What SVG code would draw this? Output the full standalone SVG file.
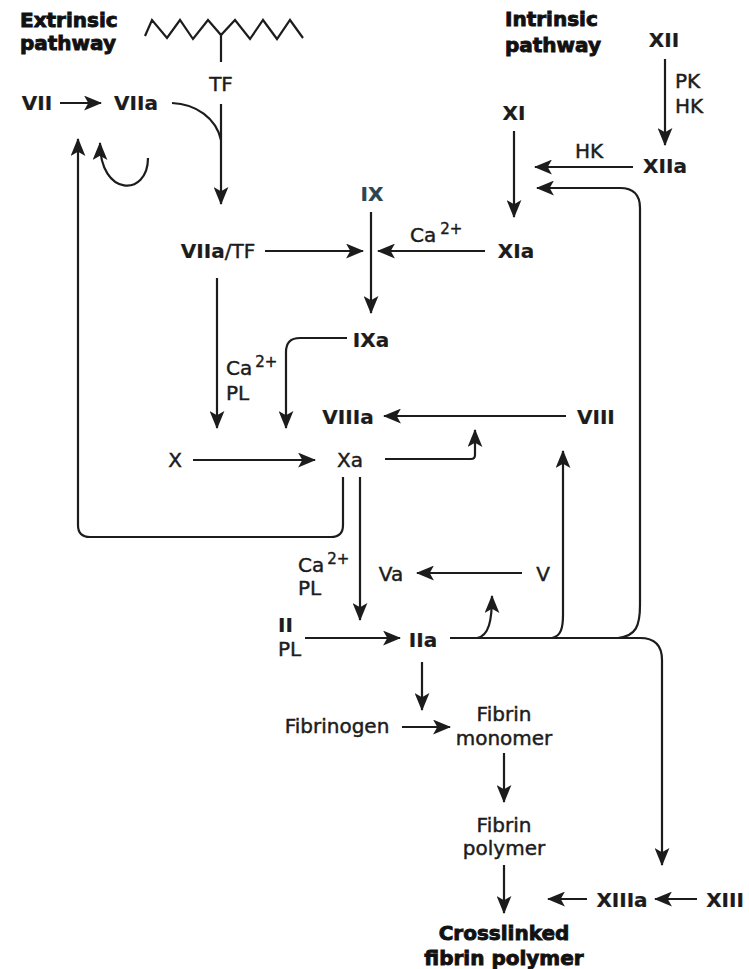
<svg xmlns="http://www.w3.org/2000/svg" width="749" height="969" viewBox="0 0 749 969">
  <defs>
    <marker id="ah" markerUnits="userSpaceOnUse" markerWidth="18" markerHeight="15" refX="16" refY="7" orient="auto" viewBox="0 0 17 14">
      <path d="M0,0 L17,7 L0,14 L4,7 z" fill="#1c1c1c"/>
    </marker>
    <style>
      text { font-family: "DejaVu Sans", Verdana, sans-serif; font-size: 20px; fill: #1c1c1c; stroke: #1c1c1c; stroke-width: 0.45px; }
      .b { font-weight: bold; stroke-width: 0.2px; }
      .t { font-weight: bold; font-size: 20px; fill: #111; stroke: #111; stroke-width: 0.9px; }
      .m { text-anchor: middle; }
      .sup { font-size: 15px; }
      .c { fill: none; stroke: #1c1c1c; stroke-width: 2.2; }
      .a { marker-end: url(#ah); }
      .ix { fill: #2a4652; stroke: #2a4652; }
    </style>
  </defs>
  <rect width="749" height="969" fill="#ffffff"/>

  <g id="titles">
    <text class="t" x="20" y="27">Extrinsic</text>
    <text class="t" x="20" y="50">pathway</text>
    <text class="t" x="505" y="26">Intrinsic</text>
    <text class="t" x="505" y="52">pathway</text>
  </g>

  <g id="membrane">
    <polyline class="c" stroke-width="3.4" stroke-linejoin="miter" points="145,36 152,20 167,38 180,20 193,39 208,20 221,35 235,20 250,39 263,20 277,39 290,20 303,38"/>
    <line class="c" stroke-width="3" x1="221" y1="35" x2="221" y2="62"/>
  </g>

  <g id="connectors">
    <path class="c a" d="M60,103 H101"/>
    <path class="c a" d="M221,104 V204"/>
    <path class="c" d="M172,103 C196,104 216,118 221,140"/>
    <path class="c a" d="M148,158 C148,197 100,197 100,143"/>
    <path class="c a" d="M343,477 V525 Q343,537 331,537 H90 Q78,537 78,525 V139"/>
    <path class="c a" d="M265,251 H363"/>
    <path class="c a" d="M371,212 V313"/>
    <path class="c a" d="M485,251 H378"/>
    <path class="c a" d="M514,131 V217"/>
    <path class="c a" d="M665,59 V145"/>
    <path class="c a" d="M633,167 H535"/>
    <path class="c a" d="M618,638 C636,636 640,626 640,605 V208 Q640,188 620,188 H537"/>
    <path class="c a" d="M450,638 H640 Q662,638 662,660 V865"/>
    <path class="c a" d="M552,638 C561,636 563,628 563,615 V451"/>
    <path class="c a" d="M477,638 C489,636 492,620 492,596"/>
    <path class="c a" d="M385,459 H471 Q475,459 475,455 V430"/>
    <path class="c a" d="M566,416 H384"/>
    <path class="c a" d="M217,278 V428"/>
    <path class="c a" d="M347,338 H300 Q286,338 286,352 V428"/>
    <path class="c a" d="M193,460 H315"/>
    <path class="c a" d="M360,477 V620"/>
    <path class="c a" d="M522,573 H417"/>
    <path class="c a" d="M305,638 H400"/>
    <path class="c a" d="M422,662 V710"/>
    <path class="c a" d="M402,727 H450"/>
    <path class="c a" d="M504,753 V802"/>
    <path class="c a" d="M504,865 V913"/>
    <path class="c a" d="M587,899 H548"/>
    <path class="c a" d="M697,899 H655"/>
  </g>

  <g id="VII"><text class="b m" x="37" y="110">VII</text></g>
  <g id="VIIa"><text class="b m" x="136" y="110">VIIa</text></g>
  <g id="TF"><text class="m" x="221" y="91">TF</text></g>
  <g id="XII"><text class="b m" x="664" y="47">XII</text></g>
  <g id="PKHK"><text x="675" y="88">PK</text><text x="675" y="113">HK</text></g>
  <g id="XI"><text class="b m" x="514" y="120">XI</text></g>
  <g id="XIIa"><text class="b m" x="665" y="173">XIIa</text></g>
  <g id="HK"><text x="575" y="158">HK</text></g>
  <g id="IX"><text class="b m ix" x="372" y="201">IX</text></g>
  <g id="VIIaTF"><text class="m" x="218" y="258"><tspan class="b">VIIa</tspan>/TF</text></g>
  <g id="Ca1"><text x="410" y="242">Ca<tspan class="sup" dx="4" dy="-8">2+</tspan></text></g>
  <g id="XIa"><text class="b m" x="516" y="258">XIa</text></g>
  <g id="IXa"><text class="b m" x="371" y="347">IXa</text></g>
  <g id="Ca2"><text x="226" y="375">Ca<tspan class="sup" dx="3" dy="-8">2+</tspan></text><text x="226" y="400">PL</text></g>
  <g id="VIIIa"><text class="b m" x="348" y="424">VIIIa</text></g>
  <g id="VIII"><text class="b" x="577" y="424">VIII</text></g>
  <g id="X"><text class="m" x="175" y="467">X</text></g>
  <g id="Xa"><text class="m" x="350" y="467">Xa</text></g>
  <g id="Ca3"><text x="298" y="572">Ca<tspan class="sup" dx="3" dy="-8">2+</tspan></text><text x="298" y="595">PL</text></g>
  <g id="Va"><text class="m" x="391" y="581">Va</text></g>
  <g id="V"><text class="m" x="543" y="581">V</text></g>
  <g id="II"><text class="b" x="278" y="632">II</text><text x="278" y="656">PL</text></g>
  <g id="IIa"><text class="b m" x="423" y="647">IIa</text></g>
  <g id="Fibrinogen"><text class="m" x="337" y="733">Fibrinogen</text></g>
  <g id="FibrinMonomer"><text class="m" x="504" y="721">Fibrin</text><text class="m" x="504" y="745">monomer</text></g>
  <g id="FibrinPolymer"><text class="m" x="504" y="832">Fibrin</text><text class="m" x="504" y="855">polymer</text></g>
  <g id="Crosslinked"><text class="t m" x="504" y="940">Crosslinked</text><text class="t m" x="504" y="965">fibrin polymer</text></g>
  <g id="XIIIa"><text class="b m" x="622" y="907">XIIIa</text></g>
  <g id="XIII"><text class="b m" x="725" y="907">XIII</text></g>
</svg>
